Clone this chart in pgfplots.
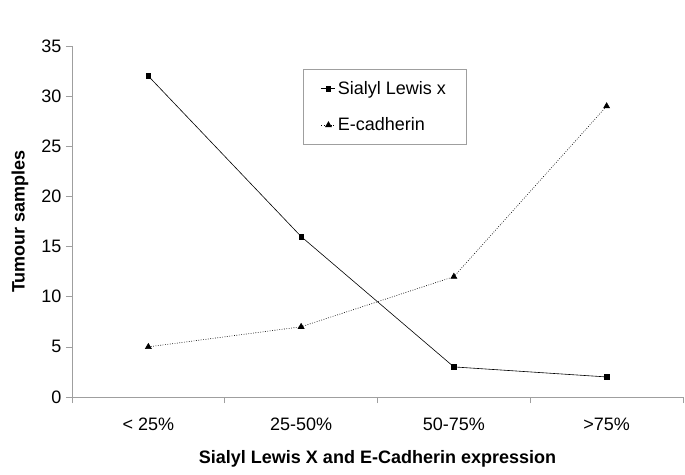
\documentclass[border=0pt]{standalone}
\usepackage{pgfplots}
\pgfplotsset{compat=1.18}
\usepackage{fontspec}
\setmainfont{Liberation Sans}
\begin{document}
\begin{tikzpicture}
\useasboundingbox (0,0) rectangle (685pt,474pt);
\begin{axis}[
  at={(72pt,77pt)}, anchor=south west,
  width=611pt, height=351pt, scale only axis,
  xmin=-0.5, xmax=3.5, ymin=0, ymax=35,
  axis x line=bottom, axis y line=left,
  axis line style={-, draw=gray!75, line width=0.6pt},
  tick align=outside,
  ytick={0,5,...,35},
  xtick={0,1,2,3},
  xticklabels={{< 25\%},{25-50\%},{50-75\%},{>75\%}},
  minor xtick={-0.5,0.5,1.5,2.5,3.5},
  major x tick style={draw=none},
  minor x tick style={draw=gray!75, line width=0.6pt},
  y tick style={draw=gray!75, line width=0.6pt},
  major tick length=6pt, minor tick length=6pt,
  /pgf/number format/assume math mode=true,
  yticklabel style={font=\fontsize{18}{21}\selectfont, xshift=-1pt},
  xticklabel style={font=\fontsize{18}{21}\selectfont, yshift=-11pt},
  xlabel={Sialyl Lewis X and E-Cadherin expression},
  ylabel={Tumour samples},
  xlabel style={font=\bfseries\fontsize{18}{21}\selectfont, at={(axis description cs:0.5,-0.175)}, anchor=center},
  ylabel style={font=\bfseries\fontsize{18}{21}\selectfont, at={(axis description cs:-0.0851,0.5)}, anchor=center},
  legend style={at={(axis description cs:0.378,0.934)}, anchor=north west, draw=gray!75,
    font=\fontsize{18}{21}\selectfont, inner xsep=18pt, inner ysep=10pt, row sep=18pt},
  legend cell align=left,
  legend image code/.code={\draw[mark repeat=2,mark phase=2,#1] plot coordinates {(0pt,0pt) (7pt,0pt) (14pt,0pt)};},
]
\addplot[black, line width=0.6pt, mark=square*, mark size=2.3pt] coordinates {(0,32) (1,16) (2,3) (3,2)};
\addlegendentry{Sialyl Lewis x}
\addplot[black, line width=0.6pt, dash pattern=on 0.8pt off 1.6pt, mark=triangle*, mark size=3.4pt, mark options={solid}] coordinates {(0,5) (1,7) (2,12) (3,29)};
\addlegendentry{E-cadherin}
\end{axis}
\end{tikzpicture}
\end{document}
